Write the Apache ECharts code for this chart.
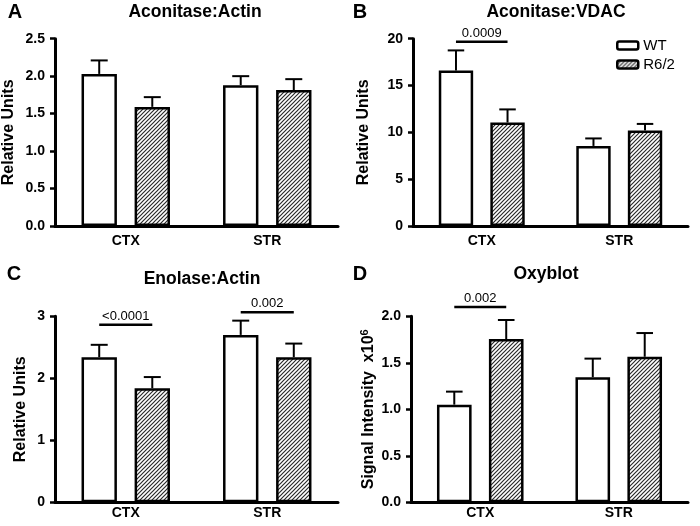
<!DOCTYPE html>
<html><head><meta charset="utf-8">
<script src="https://cdn.jsdelivr.net/npm/echarts@6/dist/echarts.min.js"></script>
<style>html,body{margin:0;padding:0;background:#fff}#c{width:700px;height:526px}</style>
</head><body><div id="c"></div>
<script>
// ---- data ----
const categories = ['CTX', 'STR'];
const seriesNames = ['WT', 'R6/2'];
// Panel A: Aconitase:Actin
const aWT = [2.03, 1.88], aWTErr = [2.21, 2.00];
const aR6 = [1.59, 1.815], aR6Err = [1.72, 1.96];
// Panel B: Aconitase:VDAC
const bWT = [16.6, 8.55], bWTErr = [18.75, 9.35];
const bR6 = [11.05, 10.2], bR6Err = [12.45, 10.9];
// Panel C: Enolase:Actin
const cWT = [2.34, 2.70], cWTErr = [2.54, 2.93];
const cR6 = [1.84, 2.34], cR6Err = [2.02, 2.56];
// Panel D: Oxyblot
const dWT = [1.05, 1.345], dWTErr = [1.19, 1.545];
const dR6 = [1.755, 1.565], dR6Err = [1.96, 1.82];
// significance annotations
const bSigCat = [0], bSigY = [19.68], bSigText = ['0.0009'];
const cSigCat = [0, 1], cSigY = [2.865, 3.065], cSigText = ['<0.0001', '0.002'];
const dSigCat = [0], dSigY = [2.1], dSigText = ['0.002'];
// axis ranges
const yMax = [2.5, 20, 3, 2.0];
const yInterval = [0.5, 5, 1, 0.5];
const yDecimals = [1, 0, 0, 1];
const titles = ['Aconitase:Actin', 'Aconitase:VDAC', 'Enolase:Actin', 'Oxyblot'];
const letters = ['A', 'B', 'C', 'D'];
const yNames = ['Relative Units', 'Relative Units', 'Relative Units', 'Signal Intensity  x10{sup|6}'];

const FONT = "'Liberation Sans', Arial, Helvetica, sans-serif";

function hatch() {
  const c = document.createElement('canvas');
  c.width = 4; c.height = 4;
  const g = c.getContext('2d');
  g.fillStyle = '#fff'; g.fillRect(0, 0, 4, 4);
  g.strokeStyle = '#2a2a2a'; g.lineWidth = 1.2;
  g.beginPath();
  g.moveTo(-1, 5); g.lineTo(5, -1);
  g.moveTo(-1, 1); g.lineTo(1, -1);
  g.moveTo(3, 5); g.lineTo(5, 3);
  g.stroke();
  return c;
}
const hatchFill = { image: hatch(), repeat: 'repeat' };

const BARW = 0.25, GAP = 0.5;
function errRender(params, api) {
  const cat = api.value(0), m = api.value(1), h = api.value(2), side = api.value(3);
  const band = api.size([1, 0])[0];
  const off = band * BARW * (1 + GAP) / 2 * side;
  const p0 = api.coord([cat, m]), p1 = api.coord([cat, h]);
  const x = p0[0] + off, cap = band * 0.06;
  return { type: 'group', children: [
    { type: 'line', shape: { x1: x, y1: p0[1], x2: x, y2: p1[1] }, style: { stroke: '#000', lineWidth: 2 } },
    { type: 'line', shape: { x1: x - cap, y1: p1[1], x2: x + cap, y2: p1[1] }, style: { stroke: '#000', lineWidth: 2 } }
  ]};
}
function sigRender(texts) {
  return function (params, api) {
    const cat = api.value(0), y = api.value(1);
    const band = api.size([1, 0])[0];
    const off = band * BARW * (1 + GAP) / 2;
    const p = api.coord([cat, y]);
    return { type: 'group', children: [
      { type: 'line', shape: { x1: p[0] - off, y1: p[1], x2: p[0] + off, y2: p[1] }, style: { stroke: '#000', lineWidth: 2.5 } },
      { type: 'text', x: p[0], y: p[1] - 2, style: { text: texts[params.dataIndex], textAlign: 'center', textVerticalAlign: 'bottom', font: '13px ' + FONT, fill: '#000' } }
    ]};
  };
}

const grids = [
  { left: 55, right: 362, top: 38.7, bottom: 300 },
  { left: 413, right: 12, top: 38.7, bottom: 300 },
  { left: 55, right: 362, top: 316.3, bottom: 23.7 },
  { left: 411, right: 12, top: 316.3, bottom: 23.7 }
];
const nameGaps = [38, 41, 26, 33];
const xLabelMargins = [8, 8, 4, 4];
const panelData = [
  [aWT, aWTErr, aR6, aR6Err, null],
  [bWT, bWTErr, bR6, bR6Err, [bSigCat, bSigY, bSigText]],
  [cWT, cWTErr, cR6, cR6Err, [cSigCat, cSigY, cSigText]],
  [dWT, dWTErr, dR6, dR6Err, [dSigCat, dSigY, dSigText]]
];

const xAxes = [], yAxes = [], series = [];
panelData.forEach((pd, i) => {
  xAxes.push({
    type: 'category', gridIndex: i, data: categories,
    axisLine: { show: true, lineStyle: { color: '#000', width: 3 } },
    axisTick: { show: false },
    axisLabel: { color: '#000', fontWeight: 'bold', fontSize: 14, fontFamily: FONT, margin: xLabelMargins[i] }
  });
  yAxes.push({
    type: 'value', gridIndex: i, min: 0, max: yMax[i], interval: yInterval[i],
    axisLine: { show: true, lineStyle: { color: '#000', width: 3 } },
    axisTick: { show: true, length: 5, lineStyle: { color: '#000', width: 2.5 } },
    splitLine: { show: false },
    axisLabel: { color: '#000', fontWeight: 'bold', fontSize: 14, fontFamily: FONT, margin: 10,
      formatter: v => v.toFixed(yDecimals[i]) },
    name: yNames[i], nameLocation: 'middle', nameRotate: 90, nameGap: nameGaps[i],
    nameTextStyle: { color: '#000', fontWeight: 'bold', fontSize: 16, fontFamily: FONT,
      rich: { sup: { color: '#000', fontWeight: 'bold', fontSize: 11, fontFamily: FONT, padding: [0, 0, 8, 0] } } }
  });
  const [wt, wtE, r6, r6E, sig] = pd;
  series.push({
    type: 'bar', name: seriesNames[0], xAxisIndex: i, yAxisIndex: i, data: wt,
    barWidth: (BARW * 100) + '%', barGap: (GAP * 100) + '%',
    itemStyle: { color: '#fff', borderColor: '#000', borderWidth: 2.5 }, silent: true
  });
  series.push({
    type: 'bar', name: seriesNames[1], xAxisIndex: i, yAxisIndex: i, data: r6,
    barWidth: (BARW * 100) + '%', barGap: (GAP * 100) + '%',
    itemStyle: { color: hatchFill, borderColor: '#000', borderWidth: 2.5 }, silent: true
  });
  const errData = [];
  wt.forEach((v, k) => errData.push([k, v, wtE[k], -1]));
  r6.forEach((v, k) => errData.push([k, v, r6E[k], 1]));
  series.push({ type: 'custom', xAxisIndex: i, yAxisIndex: i, data: errData, renderItem: errRender, clip: false, z: 3, silent: true });
  if (sig) {
    const sd = sig[0].map((c, k) => [c, sig[1][k]]);
    series.push({ type: 'custom', xAxisIndex: i, yAxisIndex: i, data: sd, renderItem: sigRender(sig[2]), clip: false, z: 3, silent: true });
  }
});

const letterPos = [[15, 12], [360, 12], [14, 274], [360, 274]];
const titlePos = [[195, 12], [556, 12], [202, 279], [546, 274]];
const graphics = [];
letters.forEach((l, i) => graphics.push({ type: 'text', x: letterPos[i][0], y: letterPos[i][1],
  style: { text: l, font: 'bold 20px ' + FONT, fill: '#000', textAlign: 'center', textVerticalAlign: 'middle' } }));
titles.forEach((t, i) => graphics.push({ type: 'text', x: titlePos[i][0], y: titlePos[i][1],
  style: { text: t, font: 'bold 17.5px ' + FONT, fill: '#000', textAlign: 'center', textVerticalAlign: 'middle' } }));

const chart = echarts.init(document.getElementById('c'), null, { renderer: 'canvas' });
chart.setOption({
  backgroundColor: '#fff',
  animation: false,
  grid: grids,
  xAxis: xAxes,
  yAxis: yAxes,
  legend: {
    data: seriesNames, orient: 'vertical', left: 611, top: 33, selectedMode: false,
    itemWidth: 21, itemHeight: 8, itemGap: 4,
    itemStyle: { borderColor: '#000', borderWidth: 2.5 },
    textStyle: { color: '#000', fontSize: 15, fontFamily: FONT }
  },
  graphic: graphics,
  series: series
});
</script></body></html>
